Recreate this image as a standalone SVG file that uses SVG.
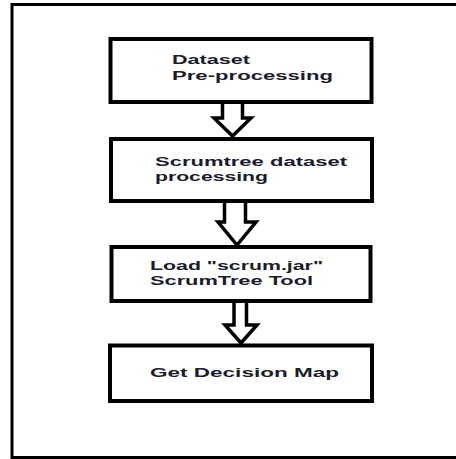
<svg xmlns="http://www.w3.org/2000/svg" width="456" height="459" viewBox="0 0 456 459">
<style>
.box{fill:#fff;stroke:#000;stroke-width:4}
.arr{fill:#fff;stroke:#000;stroke-width:3.5;stroke-linejoin:miter}
.t{font-family:"Liberation Sans",Arial,sans-serif;font-size:12.5px;font-weight:bold;fill:#1c1c2c}
</style>
<rect width="456" height="459" fill="#fff"/>
<path d="M460 4.5H12V457.5H460" fill="none" stroke="#000" stroke-width="3"/>
<g id="connectors">
<polygon class="arr" points="222.5,102 222.5,118 214,118 232.5,136 251,118 242.5,118 242.5,102"/>
<polygon class="arr" points="224.5,201 224.5,222 218,222 237,245 256,222 245.5,222 245.5,201"/>
<polygon class="arr" points="234,301 234,325 225,325 241,343 257,325 246.5,325 246.5,301"/>
</g>
<g id="n1">
<rect class="box" x="110.5" y="39" width="261" height="63"/>
<text class="t" x="172" y="64" textLength="78" lengthAdjust="spacingAndGlyphs">Dataset</text>
<text class="t" x="172" y="80" textLength="161" lengthAdjust="spacingAndGlyphs">Pre-processing</text>
</g>
<g id="n2">
<rect class="box" x="111" y="139" width="261" height="62"/>
<text class="t" x="155" y="166" textLength="192" lengthAdjust="spacingAndGlyphs">Scrumtree dataset</text>
<text class="t" x="155" y="181" textLength="113" lengthAdjust="spacingAndGlyphs">processing</text>
</g>
<g id="n3">
<rect class="box" x="111.5" y="247" width="259" height="54"/>
<text class="t" x="150" y="270" textLength="173" lengthAdjust="spacingAndGlyphs">Load "scrum.jar"</text>
<text class="t" x="150" y="285" textLength="163" lengthAdjust="spacingAndGlyphs">ScrumTree Tool</text>
</g>
<g id="n4">
<rect class="box" x="110" y="345.5" width="262" height="55.5"/>
<text class="t" x="150" y="377" textLength="189" lengthAdjust="spacingAndGlyphs">Get Decision Map</text>
</g>
</svg>
